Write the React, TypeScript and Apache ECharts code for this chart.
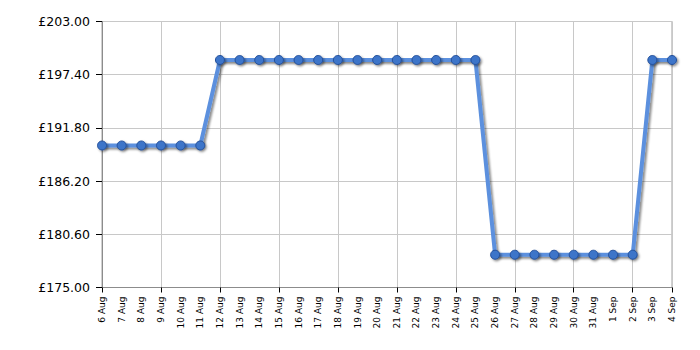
import React, { useEffect, useRef } from "react";
import * as echarts from "echarts";

const categories = [
  "6 Aug", "7 Aug", "8 Aug", "9 Aug", "10 Aug", "11 Aug", "12 Aug", "13 Aug",
  "14 Aug", "15 Aug", "16 Aug", "17 Aug", "18 Aug", "19 Aug", "20 Aug", "21 Aug",
  "22 Aug", "23 Aug", "24 Aug", "25 Aug", "26 Aug", "27 Aug", "28 Aug", "29 Aug",
  "30 Aug", "31 Aug", "1 Sep", "2 Sep", "3 Sep", "4 Sep",
];

const prices = [
  189.95, 189.95, 189.95, 189.95, 189.95, 189.95,
  198.95, 198.95, 198.95, 198.95, 198.95, 198.95, 198.95, 198.95, 198.95, 198.95,
  198.95, 198.95, 198.95, 198.95,
  178.45, 178.45, 178.45, 178.45, 178.45, 178.45, 178.45, 178.45,
  198.95, 198.95,
];

const yMin = 175;
const yMax = 203;
const yStep = 5.6;

export default function App() {
  const ref = useRef<HTMLDivElement>(null);
  useEffect(() => {
    if (!ref.current) return;
    const chart = echarts.init(ref.current, null, { renderer: "svg" });
    const font = "DejaVu Sans, Verdana, sans-serif";
    chart.setOption({
      animation: false,
      grid: {
        left: 102,
        right: 28,
        top: 21.5,
        bottom: 62.5,
        show: true,
        borderColor: "#a0a0a0",
        borderWidth: 1,
        backgroundColor: "transparent",
      },
      xAxis: {
        type: "category",
        data: categories,
        boundaryGap: false,
        axisLine: { lineStyle: { color: "#8c8c8c", width: 1 } },
        axisTick: { show: true, interval: 2, length: 5, lineStyle: { color: "#000" } },
        splitLine: { show: true, interval: 2, lineStyle: { color: "#c8c8c8", width: 1 } },
        axisLabel: {
          interval: 0,
          rotate: 90,
          fontSize: 9,
          fontFamily: font,
          color: "#000",
          margin: 9,
        },
      },
      yAxis: {
        type: "value",
        min: yMin,
        max: yMax,
        interval: yStep,
        axisLine: { show: true, lineStyle: { color: "#8c8c8c", width: 1 } },
        axisTick: { show: true, length: 6, lineStyle: { color: "#000" } },
        splitLine: { show: true, lineStyle: { color: "#c8c8c8", width: 1 } },
        axisLabel: {
          fontSize: 12.5,
          fontFamily: font,
          color: "#000",
          margin: 12,
          formatter: (v: number) => "£" + v.toFixed(2),
        },
      },
      series: [
        {
          type: "line",
          data: prices,
          symbol: "circle",
          symbolSize: 9,
          lineStyle: {
            color: "#5b90de",
            width: 4,
            shadowColor: "rgba(0,0,0,0.45)",
            shadowBlur: 2,
            shadowOffsetX: 2,
            shadowOffsetY: 2,
          },
          itemStyle: {
            color: "#3d74c9",
            borderColor: "#24509a",
            borderWidth: 1,
            shadowColor: "rgba(0,0,0,0.45)",
            shadowBlur: 2,
            shadowOffsetX: 1.5,
            shadowOffsetY: 1.5,
          },
        },
      ],
    });
    return () => chart.dispose();
  }, []);
  return <div ref={ref} style={{ width: 700, height: 350, margin: -8 }} />;
}
